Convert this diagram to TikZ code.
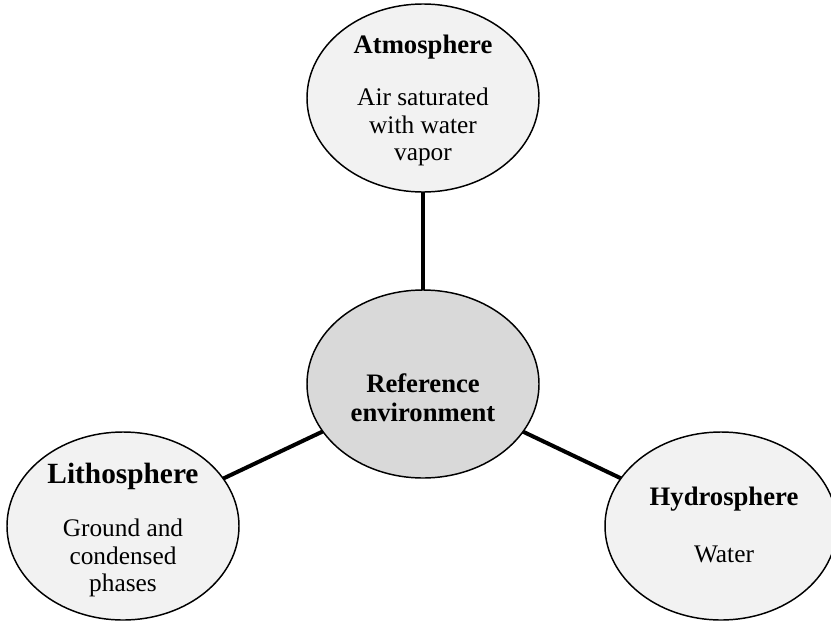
\documentclass[tikz,border=0pt]{standalone}
\usepackage{fontspec}
\setmainfont{Liberation Serif}
\usetikzlibrary{shapes.geometric}

\definecolor{sphereFill}{HTML}{F2F2F2}
\definecolor{coreFill}{HTML}{D9D9D9}

\tikzset{
  sphere/.style={ellipse, draw=black, line width=1.1pt, fill=sphereFill,
    minimum width=174pt, minimum height=141pt, inner sep=0pt, outer sep=0pt},
  core/.style={sphere, fill=coreFill},
  link/.style={line width=3pt, black},
  title/.style={font=\fontsize{20}{22}\selectfont\bfseries, align=center, inner sep=0pt},
  bigtitle/.style={title, font=\fontsize{22}{24}\selectfont\bfseries},
  body/.style={font=\fontsize{19}{20.8}\selectfont, align=center, inner sep=0pt},
}

\begin{document}
\begin{tikzpicture}[x=0.75pt, y=-0.75pt]
  \useasboundingbox (0,0) rectangle (831,621);

  % ellipses
  \node[sphere] (atm) at (423,98) {};
  \node[core]   (ref) at (423,384) {};
  \node[sphere] (lith) at (123,526) {};
  \node[sphere] (hyd) at (721,526) {};

  % connectors
  \draw[link] (atm) -- (ref);
  \draw[link] (lith) -- (ref);
  \draw[link] (ref) -- (hyd);

  % texts
  \node[title] (atmT) at (423,47) {Atmosphere};
  \node[body]  (atmB) at (423,127) {Air saturated\\with water\\vapor};

  \node[title] (refT) at (423,398) {Reference\\environment};

  \node[bigtitle] (lithT) at (123,476) {Lithosphere};
  \node[body]     (lithB) at (123,558) {Ground and\\condensed\\phases};

  \node[title] (hydT) at (724,499) {Hydrosphere};
  \node[body]  (hydB) at (724,554) {Water};
\end{tikzpicture}
\end{document}
